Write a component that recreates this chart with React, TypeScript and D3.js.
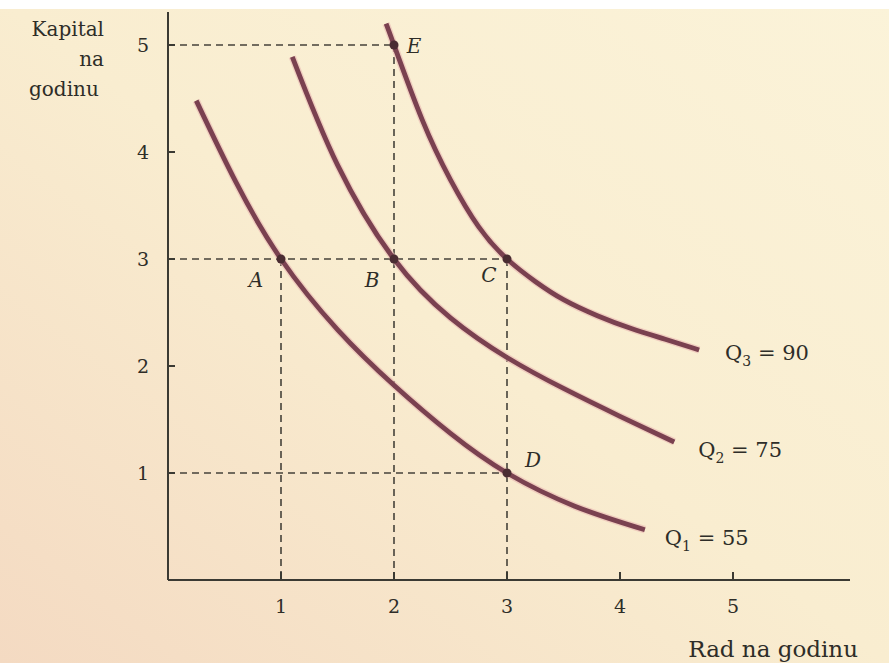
import React from "react";
import * as d3 from "d3";

const W = 889;
const H = 663;

// Isoquant data (Rad na godinu, Kapital na godinu)
const q1Labor = [0.25, 0.6, 1, 1.5, 2, 2.5, 3, 3.6, 4.22];
const q1Capital = [4.48, 3.72, 3, 2.34, 1.82, 1.37, 1, 0.69, 0.47];
const q2Labor = [1.1, 1.5, 2, 2.5, 3, 3.5, 4, 4.48];
const q2Capital = [4.89, 3.88, 3, 2.45, 2.08, 1.79, 1.53, 1.29];
const q3Labor = [1.93, 2, 2.25, 2.5, 2.75, 3, 3.25, 3.5, 3.8, 4.1, 4.4, 4.7];
const q3Capital = [5.2, 5, 4.3, 3.74, 3.3, 3, 2.79, 2.62, 2.47, 2.35, 2.25, 2.15];

const xTicks = [1, 2, 3, 4, 5];
const yTicks = [1, 2, 3, 4, 5];

const pointNames = ["A", "B", "C", "D", "E"];
const pointLabor = [1, 2, 3, 3, 2];
const pointCapital = [3, 3, 3, 1, 5];

const curveNames = ["Q1", "Q2", "Q3"];
const curveSubs = ["1", "2", "3"];
const curveValues = [55, 75, 90];

export default function App() {
  const x = d3.scaleLinear().domain([0, 5]).range([168, 733]);
  const y = d3.scaleLinear().domain([0, 5]).range([580, 45]);

  const line = d3
    .line<[number, number]>()
    .x((d) => x(d[0]))
    .y((d) => y(d[1]))
    .curve(d3.curveNatural);

  const curves = [
    d3.zip(q1Labor, q1Capital) as [number, number][],
    d3.zip(q2Labor, q2Capital) as [number, number][],
    d3.zip(q3Labor, q3Capital) as [number, number][],
  ];

  const serif = "'DejaVu Serif', 'Liberation Serif', serif";
  const axisColor = "#3b3a33";
  const curveColor = "#7a4150";
  const dash = "7,5";

  // label offsets for point names
  const pLabelDx = [-25, -22, -18, 26, 20];
  const pLabelDy = [28, 28, 23, -6, 8];

  const qLabelDx = [20, 24, 26];
  const qLabelDy = [15, 15, 10];

  const ends = curves.map((c) => c[c.length - 1]);

  return (
    <div style={{ position: "absolute", left: 0, top: 0 }}>
      <svg width={W} height={H} style={{ display: "block" }}>
        <defs>
          <linearGradient id="paper" x1="1" y1="0" x2="0" y2="1">
            <stop offset="0" stopColor="#fbf3d9" />
            <stop offset="0.5" stopColor="#f9edd0" />
            <stop offset="1" stopColor="#f4dac2" />
          </linearGradient>
        </defs>
        <rect x={0} y={0} width={W} height={H} fill="url(#paper)" />
        <rect x={0} y={0} width={W} height={9} fill="#ffffff" />

        {/* dashed guide lines */}
        <g stroke="#45423a" strokeWidth={1.6} strokeDasharray={dash} fill="none">
          <line x1={x(0)} x2={x(2)} y1={y(5)} y2={y(5)} />
          <line x1={x(0)} x2={x(3)} y1={y(3)} y2={y(3)} />
          <line x1={x(0)} x2={x(3)} y1={y(1)} y2={y(1)} />
          <line x1={x(1)} x2={x(1)} y1={y(3)} y2={y(0)} />
          <line x1={x(2)} x2={x(2)} y1={y(5)} y2={y(0)} />
          <line x1={x(3)} x2={x(3)} y1={y(3)} y2={y(0)} />
        </g>

        {/* axes */}
        <g stroke={axisColor} strokeWidth={2} fill="none">
          <line x1={x(0)} x2={x(0)} y1={12} y2={y(0)} />
          <line x1={x(0)} x2={850} y1={y(0)} y2={y(0)} />
          {yTicks.map((t) => (
            <line key={"yt" + t} x1={x(0)} x2={x(0) + 7} y1={y(t)} y2={y(t)} />
          ))}
          {xTicks.map((t) => (
            <line key={"xt" + t} x1={x(t)} x2={x(t)} y1={y(0)} y2={y(0) - 8} />
          ))}
        </g>

        {/* tick labels */}
        <g fontFamily={serif} fontSize={19} fill="#2e2d28">
          {yTicks.map((t) => (
            <text key={"yl" + t} x={x(0) - 19} y={y(t) + 7} textAnchor="end">
              {t}
            </text>
          ))}
          {xTicks.map((t) => (
            <text key={"xl" + t} x={x(t)} y={y(0) + 33} textAnchor="middle">
              {t}
            </text>
          ))}
        </g>

        {/* axis titles */}
        <g fontFamily={serif} fontSize={20} fill="#2e2d28">
          <text x={104} y={36} textAnchor="end">Kapital</text>
          <text x={104} y={66} textAnchor="end">na</text>
          <text x={29} y={96}>godinu</text>
          <text x={858} y={657} textAnchor="end" fontSize={23}>Rad na godinu</text>
        </g>

        {/* isoquants */}
        <g fill="none" strokeLinecap="butt">
          {curves.map((c, i) => (
            <path key={"halo" + i} d={line(c) || ""} stroke="#eab8b2" strokeWidth={7.5} opacity={0.6} />
          ))}
          {curves.map((c, i) => (
            <path key={"c" + i} d={line(c) || ""} stroke={curveColor} strokeWidth={4.8} />
          ))}
        </g>

        {/* points */}
        <g fill="#4a2c32">
          {pointNames.map((n, i) => (
            <circle key={"p" + n} cx={x(pointLabor[i])} cy={y(pointCapital[i])} r={4.5} />
          ))}
        </g>
        <g fontFamily={serif} fontSize={20} fontStyle="italic" fill="#2e2d28">
          {pointNames.map((n, i) => (
            <text
              key={"pl" + n}
              x={x(pointLabor[i]) + pLabelDx[i]}
              y={y(pointCapital[i]) + pLabelDy[i]}
              textAnchor="middle"
            >
              {n}
            </text>
          ))}
        </g>

        {/* curve labels */}
        <g fontFamily={serif} fontSize={21} fill="#2e2d28">
          {curveNames.map((n, i) => (
            <text key={"ql" + n} x={x(ends[i][0]) + qLabelDx[i]} y={y(ends[i][1]) + qLabelDy[i]}>
              Q
              <tspan fontSize={14} dy={6}>{curveSubs[i]}</tspan>
              <tspan dy={-6}>{" = " + curveValues[i]}</tspan>
            </text>
          ))}
        </g>
      </svg>
    </div>
  );
}
